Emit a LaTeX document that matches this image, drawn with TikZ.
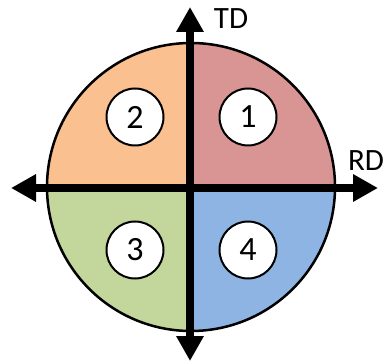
\documentclass[tikz,border=0pt]{standalone}
\usepackage{fontspec}
\setmainfont{Carlito}
\usetikzlibrary{arrows.meta}
\definecolor{qone}{HTML}{D99594}
\definecolor{qtwo}{HTML}{FAC090}
\definecolor{qthree}{HTML}{C3D69B}
\definecolor{qfour}{HTML}{8EB4E3}
\tikzset{
  axis/.style={line width=7.5pt, -{Triangle[length=25pt,width=26pt]}},
  numcirc/.style={circle, draw, line width=2pt, fill=white, minimum size=57pt, inner sep=0pt, font=\fontsize{34}{34}\selectfont},
  axlabel/.style={font=\fontsize{31}{31}\selectfont, inner sep=0pt}
}
\begin{document}
\begin{tikzpicture}[x=1pt,y=-1pt]
\useasboundingbox (0,0) rectangle (385,363);
\coordinate (c) at (191,187);
% quadrants (y axis points down, so angles run clockwise)
\fill[qone] (c) -- ++(144,0) arc[start angle=0,end angle=-90,radius=144] -- cycle;
\fill[qtwo] (c) -- ++(0,-144) arc[start angle=-90,end angle=-180,radius=144] -- cycle;
\fill[qthree] (c) -- ++(-144,0) arc[start angle=180,end angle=90,radius=144] -- cycle;
\fill[qfour] (c) -- ++(0,144) arc[start angle=90,end angle=0,radius=144] -- cycle;
\draw[line width=2.5pt] (c) circle[radius=144];
% axes
\coordinate (top) at (190,7);
\coordinate (bot) at (190,361);
\coordinate (lft) at (11,188);
\coordinate (rgt) at (378,188);
\draw[axis] (190,188) -- (top);
\draw[axis] (190,188) -- (bot);
\draw[axis] (190,188) -- (lft);
\draw[axis] (190,188) -- (rgt);
\node[axlabel] (td) at (231,19) {TD};
\node[axlabel] (rd) at (366,161) {RD};
% quadrant numbers
\node[numcirc] (n1) at (248,117) {1};
\node[numcirc] (n2) at (135,117) {2};
\node[numcirc] (n3) at (135,250) {3};
\node[numcirc] (n4) at (248,250) {4};
\end{tikzpicture}
\end{document}
